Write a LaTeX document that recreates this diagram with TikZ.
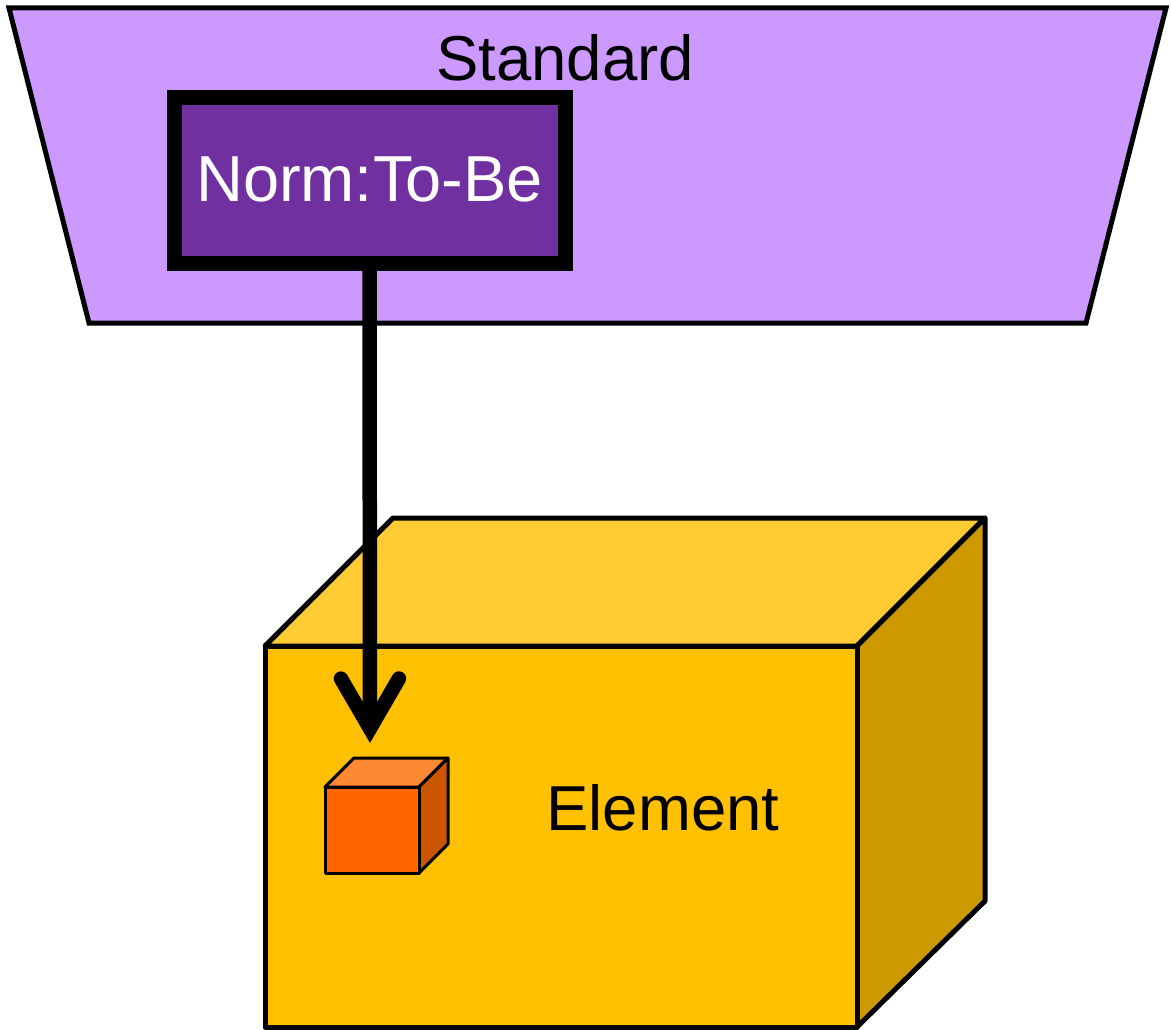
\documentclass[tikz,border=0pt]{standalone}
\usepackage{fontspec}
\setmainfont{Liberation Sans}
\usetikzlibrary{arrows.meta}
\definecolor{standardfill}{HTML}{CC99FF}
\definecolor{normfill}{HTML}{7030A0}
\definecolor{elemfront}{HTML}{FFC000}
\definecolor{elemtop}{HTML}{FFCC33}
\definecolor{elemside}{HTML}{CC9900}
\definecolor{partfront}{HTML}{FF6600}
\definecolor{parttop}{HTML}{FF8833}
\definecolor{partside}{HTML}{CC5500}
\tikzset{
    outline/.style={draw=black,line width=5pt,line join=round},
    thinline/.style={draw=black,line width=3pt,line join=round},
    label/.style={inner sep=0pt,outer sep=0pt,font=\fontsize{63.5pt}{70pt}\selectfont},
}
\begin{document}
\begin{tikzpicture}[x=1pt,y=-1pt]
    \useasboundingbox (0,0) rectangle (1171,1030);
    % standard
    \draw[outline,line join=miter,fill=standardfill] (9,8) -- (1166,8) -- (1086,323) -- (89,323) -- cycle;
    \node[label] (standard_label) at (565,58) {Standard};
    \node[draw=black,line width=15pt,fill=normfill,text=white,label,font=\fontsize{65pt}{70pt}\selectfont,
        minimum width=391pt,minimum height=166pt] (norm) at (369.5,180.5) {\raisebox{2.5pt}{Norm:To-Be}};
    % element
    \draw[outline,fill=elemtop] (265,646) -- (393,518) -- (985,518) -- (857,646) -- cycle;
    \draw[outline,fill=elemside] (857,646) -- (985,518) -- (985,901) -- (857,1027) -- cycle;
    \draw[outline,fill=elemfront] (265,646) rectangle (857,1027);
    \node[label] (element_label) at (663,808) {Element};
    % part
    \draw[thinline,fill=parttop] (325,787) -- (354,758) -- (448,758) -- (419,787) -- cycle;
    \draw[thinline,fill=partside] (419,787) -- (448,758) -- (448,844) -- (419,873) -- cycle;
    \draw[thinline,fill=partfront] (325,787) rectangle (419,873);
    % link
    \coordinate (tip) at (370,743);
    \draw[line width=14.5pt,-{Straight Barb[length=50pt,width=58pt,line cap=round,line join=miter]}] (norm.south) -- (tip);
\end{tikzpicture}
\end{document}
